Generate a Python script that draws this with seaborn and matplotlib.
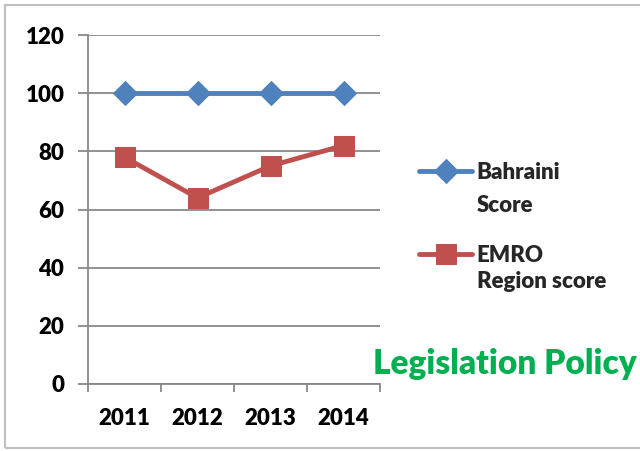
import numpy as np
import matplotlib
matplotlib.use('Agg')
import matplotlib.pyplot as plt
from matplotlib.patches import Rectangle
import pandas as pd
import seaborn as sns

years = ['2011', '2012', '2013', '2014']
bahraini = [100, 100, 100, 100]
emro = [78, 64, 75, 82]
series_names = ['Bahraini Score', 'EMRO Region score']

df = pd.DataFrame({
    'year': years * 2,
    'score': bahraini + emro,
    'series': [series_names[0]] * 4 + [series_names[1]] * 4,
})

sns.set_theme(style='white')
plt.rcParams['font.family'] = ['Lato', 'DejaVu Sans']
W = 'heavy'

blue = '#4F81BD'
red = '#C0504D'
grid_c = '#888888'

fig = plt.figure(figsize=(6.4, 4.51), dpi=100)
ax = fig.add_axes([88 / 640, 1 - 384 / 451, 292 / 640, 349 / 451])

sns.lineplot(data=df, x='year', y='score', hue='series', style='series',
             palette=[blue, red], markers={series_names[0]: 'D', series_names[1]: 's'},
             dashes=False, linewidth=3.5, legend=False, ax=ax, sort=False)
for line, ms in zip(ax.lines, [12, 14]):
    line.set_markeredgecolor(line.get_color())
    line.set_markersize(ms)

ax.set_ylim(0, 120)
ax.set_xlim(-0.5, len(years) - 0.5)
ax.set_yticks(np.arange(0, 121, 20))
ax.set_xticks(range(len(years)))
ax.set_xticklabels(years)
ax.set_xticks(np.arange(-0.5, len(years), 1), minor=True)
ax.yaxis.grid(True, color=grid_c, lw=1.3)
ax.set_axisbelow(True)
ax.set_xlabel('')
ax.set_ylabel('')
for s in ['top', 'right']:
    ax.spines[s].set_visible(False)
for s in ['left', 'bottom']:
    ax.spines[s].set_color(grid_c)
    ax.spines[s].set_linewidth(1.3)
ax.tick_params(axis='y', which='major', length=7, width=1.3, color=grid_c,
               direction='out', left=True, pad=10, labelsize=16, labelcolor='black')
ax.tick_params(axis='x', which='major', length=0, pad=17, labelsize=16, labelcolor='black')
ax.tick_params(axis='x', which='minor', length=6, width=1.3, color=grid_c,
               direction='out', bottom=True)
for lab in ax.get_xticklabels() + ax.get_yticklabels():
    lab.set_fontweight(W)

leg = ax.legend(handles=ax.lines[:2], labels=['Bahraini', 'EMRO'],
                loc='upper left', bbox_to_anchor=(419 / 640, 1 - 162 / 451),
                bbox_transform=fig.transFigure, frameon=False, borderpad=0,
                borderaxespad=0, handlelength=2.4, handletextpad=0.2,
                labelspacing=2.8, prop={'weight': W, 'size': 16})
fig.text(477 / 640, 1 - 205 / 451, 'Score', fontsize=16, fontweight=W, va='center')
fig.text(477 / 640, 1 - 281 / 451, 'Region score', fontsize=16, fontweight=W, va='center')

fig.text(373 / 640, 1 - 374 / 451, 'Legislation Policy', fontsize=24,
         fontweight=W, color='#00B050', va='baseline')

fig.patches.append(Rectangle((5 / 640, 3 / 451), 1.0, 443 / 451, transform=fig.transFigure,
                             fill=False, edgecolor='#BFBFBF', lw=1.5, clip_on=False))

fig.savefig('out.png', dpi=100)
